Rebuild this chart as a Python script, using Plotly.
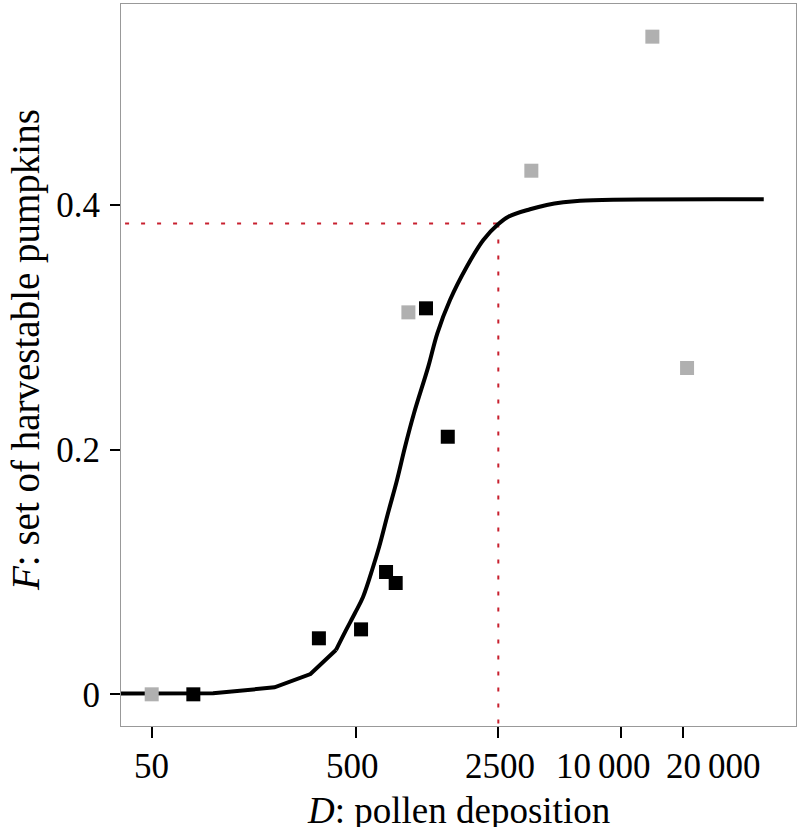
import math
import plotly.graph_objects as go

# Fitted curve: coarse lower part, smooth upper part
low_D = [1, 100, 200, 300, 400]
low_F = [0.0, 0.0008, 0.0057, 0.0166, 0.0362]
up_D = [400, 443, 496, 543, 608, 651, 720, 797, 872, 966, 1134, 1256, 1449,
        1751, 2111, 2500, 2799, 3576, 4318, 5207, 6288, 9126, 50000]
up_F = [0.0362, 0.0509, 0.0665, 0.0796, 0.1041, 0.1204, 0.1482, 0.1752, 0.2022,
        0.2300, 0.2679, 0.2952, 0.3224, 0.3496, 0.3715, 0.3845, 0.3905,
        0.3966, 0.4001, 0.4023, 0.4036, 0.4044, 0.4047]

# Observations
black_D = [80, 330, 531, 704, 785, 1105, 1413]
black_F = [0.0, 0.0458, 0.0531, 0.100, 0.091, 0.3156, 0.2106]
grey_D = [50, 906, 3629, 14220, 21040]
grey_F = [0.0, 0.3123, 0.4281, 0.5377, 0.2668]

# Threshold guide
thr_D = 2500
thr_F = 0.385

x_ticks = [50, 500, 2500, 10000, 20000]
x_ticktext = ["50", "500", "2500", "10\u2009000", "20\u2009000"]
x_label_shift = [0, -3, 2, -18, 31]
y_ticks = [0, 0.2, 0.4]
y_ticktext = ["0", "0.2", "0.4"]

FONT = "Liberation Serif, Times New Roman, serif"
RED = "#c8202f"

fig = go.Figure()
fig.add_trace(go.Scatter(x=[1, thr_D], y=[thr_F, thr_F], mode="lines",
                         line=dict(color=RED, width=2, dash="4px,12px"), hoverinfo="skip"))
fig.add_trace(go.Scatter(x=[thr_D, thr_D], y=[thr_F, -0.1], mode="lines",
                         line=dict(color=RED, width=2, dash="4px,12px"), hoverinfo="skip"))
fig.add_trace(go.Scatter(x=low_D, y=low_F, mode="lines",
                         line=dict(color="black", width=4)))
fig.add_trace(go.Scatter(x=up_D, y=up_F, mode="lines",
                         line=dict(color="black", width=4, shape="spline", smoothing=1.0)))
fig.add_trace(go.Scatter(x=grey_D, y=grey_F, mode="markers",
                         marker=dict(symbol="square", size=14, color="#b0b0b0", line=dict(width=0))))
fig.add_trace(go.Scatter(x=black_D, y=black_F, mode="markers",
                         marker=dict(symbol="square", size=14, color="black", line=dict(width=0))))

annotations = []
for v, t, s in zip(x_ticks, x_ticktext, x_label_shift):
    annotations.append(dict(text=t, xref="x", yref="paper", x=math.log10(v), y=-0.027,
                            xanchor="center", yanchor="top", xshift=s, showarrow=False,
                            font=dict(size=35, family=FONT)))
annotations += [
    dict(text="<i>D</i>: pollen deposition", xref="paper", yref="paper",
         x=0.5, y=-0.086, xanchor="center", yanchor="top", showarrow=False,
         font=dict(size=37, family=FONT)),
    dict(text="<i>F</i>: set of harvestable pumpkins", xref="paper", yref="paper",
         x=-0.1407, y=0.5208, xanchor="center", yanchor="middle", showarrow=False,
         textangle=-90, font=dict(size=39, family=FONT)),
]

fig.update_layout(
    width=800, height=827,
    margin=dict(l=121, r=4, t=4, b=101),
    paper_bgcolor="white", plot_bgcolor="white",
    showlegend=False,
    font=dict(family=FONT, color="black", size=35),
    xaxis=dict(type="log", range=[1.5485, 4.857], tickvals=x_ticks,
               showticklabels=False, automargin=False,
               ticks="outside", ticklen=11, tickwidth=1.5, tickcolor="black",
               showgrid=False, zeroline=False, showline=True, linecolor="#999999",
               linewidth=1, mirror=True),
    yaxis=dict(range=[-0.0259, 0.5644], tickvals=y_ticks, ticktext=y_ticktext,
               automargin=False, ticklabelstandoff=3,
               ticks="outside", ticklen=10, tickwidth=1.5, tickcolor="black",
               showgrid=False, zeroline=False, showline=True, linecolor="#999999",
               linewidth=1, mirror=True, tickfont=dict(size=35, family=FONT)),
    annotations=annotations,
)

fig.write_html("out.html", config={"displayModeBar": False},
               post_script="document.body.style.margin='0';")
